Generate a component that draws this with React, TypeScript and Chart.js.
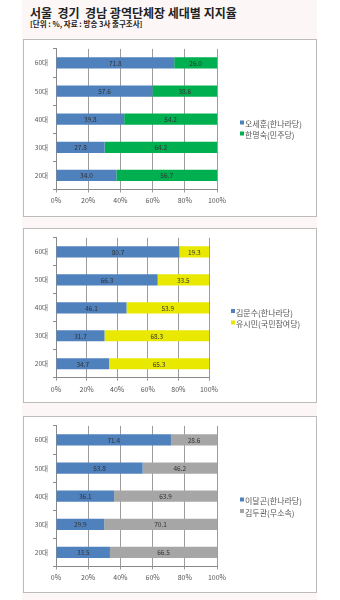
import React, { useEffect, useRef } from "react";
import { Chart, registerables } from "chart.js";

Chart.register(...registerables);

const FONT = "'Noto Sans CJK KR', 'Noto Sans', sans-serif";

const titleText = "서울  경기  경남 광역단체장 세대별 지지율";
const subtitleText = "[단위 : %, 자료 : 방송 3사 출구조사]";

const ageGroups = ["60대", "50대", "40대", "30대", "20대"];
const xTickValues = [0, 20, 40, 60, 80, 100];

const seoulNames = ["오세훈(한나라당)", "한명숙(민주당)"];
const seoulHannara = [71.8, 57.6, 39.8, 27.8, 34.0];
const seoulMinju = [26.0, 38.6, 54.2, 64.2, 56.7];

const gyeonggiNames = ["김문수(한나라당)", "유시민(국민참여당)"];
const gyeonggiHannara = [80.7, 66.3, 46.1, 31.7, 34.7];
const gyeonggiChamyeo = [19.3, 33.5, 53.9, 68.3, 65.3];

const gyeongnamNames = ["이달곤(한나라당)", "김두관(무소속)"];
const gyeongnamHannara = [71.4, 53.8, 36.1, 29.9, 33.5];
const gyeongnamIndep = [28.6, 46.2, 63.9, 70.1, 66.5];

const BLUE = "#4f81bd";
const GREEN = "#00b050";
const YELLOW = "#e9e800";
const GRAY = "#a6a6a6";

type PanelProps = {
  names: string[];
  a: number[];
  b: number[];
  colorB: string;
  width: number;
  height: number;
  padTop: number;
  padRight: number;
  xAxisH: number;
  legendX: number;
  legendY: number[];
};

const valueLabels = {
  id: "valueLabels",
  afterDatasetsDraw(chart: any) {
    const ctx = chart.ctx;
    ctx.save();
    ctx.font = `6.5px ${FONT}`;
    ctx.fillStyle = "#333";
    ctx.textAlign = "center";
    ctx.textBaseline = "middle";
    chart.data.datasets.forEach((ds: any, di: number) => {
      const meta = chart.getDatasetMeta(di);
      meta.data.forEach((el: any, i: number) => {
        const p = el.getProps(["x", "y", "base"], true);
        const raw = ds.raw[i];
        ctx.fillText(raw.toFixed(1), (p.x + p.base) / 2, p.y + 0.5);
      });
    });
    ctx.restore();
  },
};

const sideLegend = {
  id: "sideLegend",
  afterDraw(chart: any, _args: any, opts: any) {
    const ctx = chart.ctx;
    ctx.save();
    ctx.font = `8px ${FONT}`;
    ctx.textAlign = "left";
    ctx.textBaseline = "middle";
    chart.data.datasets.forEach((ds: any, di: number) => {
      const y = opts.ys[di];
      ctx.fillStyle = ds.backgroundColor;
      ctx.fillRect(opts.x, y - 3.5, 4, 4);
      ctx.fillStyle = "#555";
      ctx.fillText(ds.label, opts.x + 5, y);
    });
    ctx.restore();
  },
};

function Panel(props: PanelProps) {
  const ref = useRef<HTMLCanvasElement>(null);
  useEffect(() => {
    if (!ref.current) return;
    const pct = (v: number, i: number) => (v / (props.a[i] + props.b[i])) * 100;
    const chart = new Chart(ref.current, {
      type: "bar",
      data: {
        labels: ageGroups,
        datasets: [
          {
            label: props.names[0],
            data: props.a.map((v, i) => pct(v, i)),
            raw: props.a,
            backgroundColor: BLUE,
            barPercentage: 0.4,
            categoryPercentage: 1,
          } as any,
          {
            label: props.names[1],
            data: props.b.map((v, i) => pct(v, i)),
            raw: props.b,
            backgroundColor: props.colorB,
            barPercentage: 0.4,
            categoryPercentage: 1,
          } as any,
        ],
      },
      options: {
        indexAxis: "y",
        responsive: false,
        animation: false,
        layout: { padding: { left: 0, right: props.padRight, top: props.padTop, bottom: 0 } },
        plugins: {
          legend: { display: false },
          tooltip: { enabled: false },
          sideLegend: { x: props.legendX, ys: props.legendY },
        } as any,
        scales: {
          x: {
            stacked: true,
            min: 0,
            max: 100,
            afterBuildTicks: (s: any) => {
              s.ticks = xTickValues.map((v) => ({ value: v }));
            },
            afterFit: (s: any) => {
              s.height = props.xAxisH;
            },
            ticks: {
              callback: (v: any) => v + "%",
              color: "#555",
              font: { size: 7, family: FONT },
              padding: 4,
              maxRotation: 0,
            },
            grid: { color: "#9c9c9c", tickLength: 3, lineWidth: 1 },
            border: { color: "#8a8a8a" },
          },
          y: {
            stacked: true,
            afterFit: (s: any) => {
              s.width = 32;
            },
            ticks: {
              color: "#555",
              font: { size: 6.5, family: FONT },
              padding: 5,
            },
            grid: { drawOnChartArea: false, tickLength: 3, color: "#8a8a8a", offset: true },
            border: { color: "#8a8a8a" },
          },
        },
      } as any,
      plugins: [valueLabels, sideLegend],
    });
    return () => chart.destroy();
  }, []);
  return (
    <canvas
      ref={ref}
      width={props.width}
      height={props.height}
      style={{ display: "block", width: props.width, height: props.height }}
    />
  );
}

function Box(props: { top: number; height: number; children: React.ReactNode }) {
  return (
    <div
      style={{
        position: "absolute",
        left: 23,
        top: props.top,
        width: 294,
        height: props.height,
        boxSizing: "border-box",
        border: "1px solid #bcbcbc",
        background: "#ffffff",
      }}
    >
      {props.children}
    </div>
  );
}

export default function App() {
  return (
    <div
      style={{
        position: "absolute",
        left: 0,
        top: 0,
        width: 340,
        height: 600,
        background: "#ffffff",
        overflow: "hidden",
        fontFamily: FONT,
      }}
    >
      <div
        style={{
          position: "absolute",
          left: 22,
          top: 0,
          width: 295,
          height: 600,
          background: "#fcf7f6",
        }}
      />
      <div
        style={{
          position: "absolute",
          left: 30,
          top: 5,
          fontSize: 12,
          fontWeight: 700,
          color: "#222",
          whiteSpace: "pre",
          lineHeight: "15px",
        }}
      >
        {titleText}
      </div>
      <div
        style={{
          position: "absolute",
          left: 30,
          top: 19,
          fontSize: 7.5,
          fontWeight: 700,
          color: "#222",
          whiteSpace: "pre",
          lineHeight: "9px",
        }}
      >
        {subtitleText}
      </div>
      <Box top={39} height={178}>
        <Panel
          names={seoulNames}
          a={seoulHannara}
          b={seoulMinju}
          colorB={GREEN}
          width={292}
          height={176}
          padTop={8}
          padRight={99}
          xAxisH={26.5}
          legendX={216}
          legendY={[84, 95]}
        />
      </Box>
      <Box top={228} height={175}>
        <Panel
          names={gyeonggiNames}
          a={gyeonggiHannara}
          b={gyeonggiChamyeo}
          colorB={YELLOW}
          width={292}
          height={173}
          padTop={7}
          padRight={107}
          xAxisH={24.3}
          legendX={207}
          legendY={[83.5, 95]}
        />
      </Box>
      <Box top={416} height={177}>
        <Panel
          names={gyeongnamNames}
          a={gyeongnamHannara}
          b={gyeongnamIndep}
          colorB={GRAY}
          width={292}
          height={175}
          padTop={7.6}
          padRight={99}
          xAxisH={25.5}
          legendX={216}
          legendY={[84, 95.5]}
        />
      </Box>
    </div>
  );
}
